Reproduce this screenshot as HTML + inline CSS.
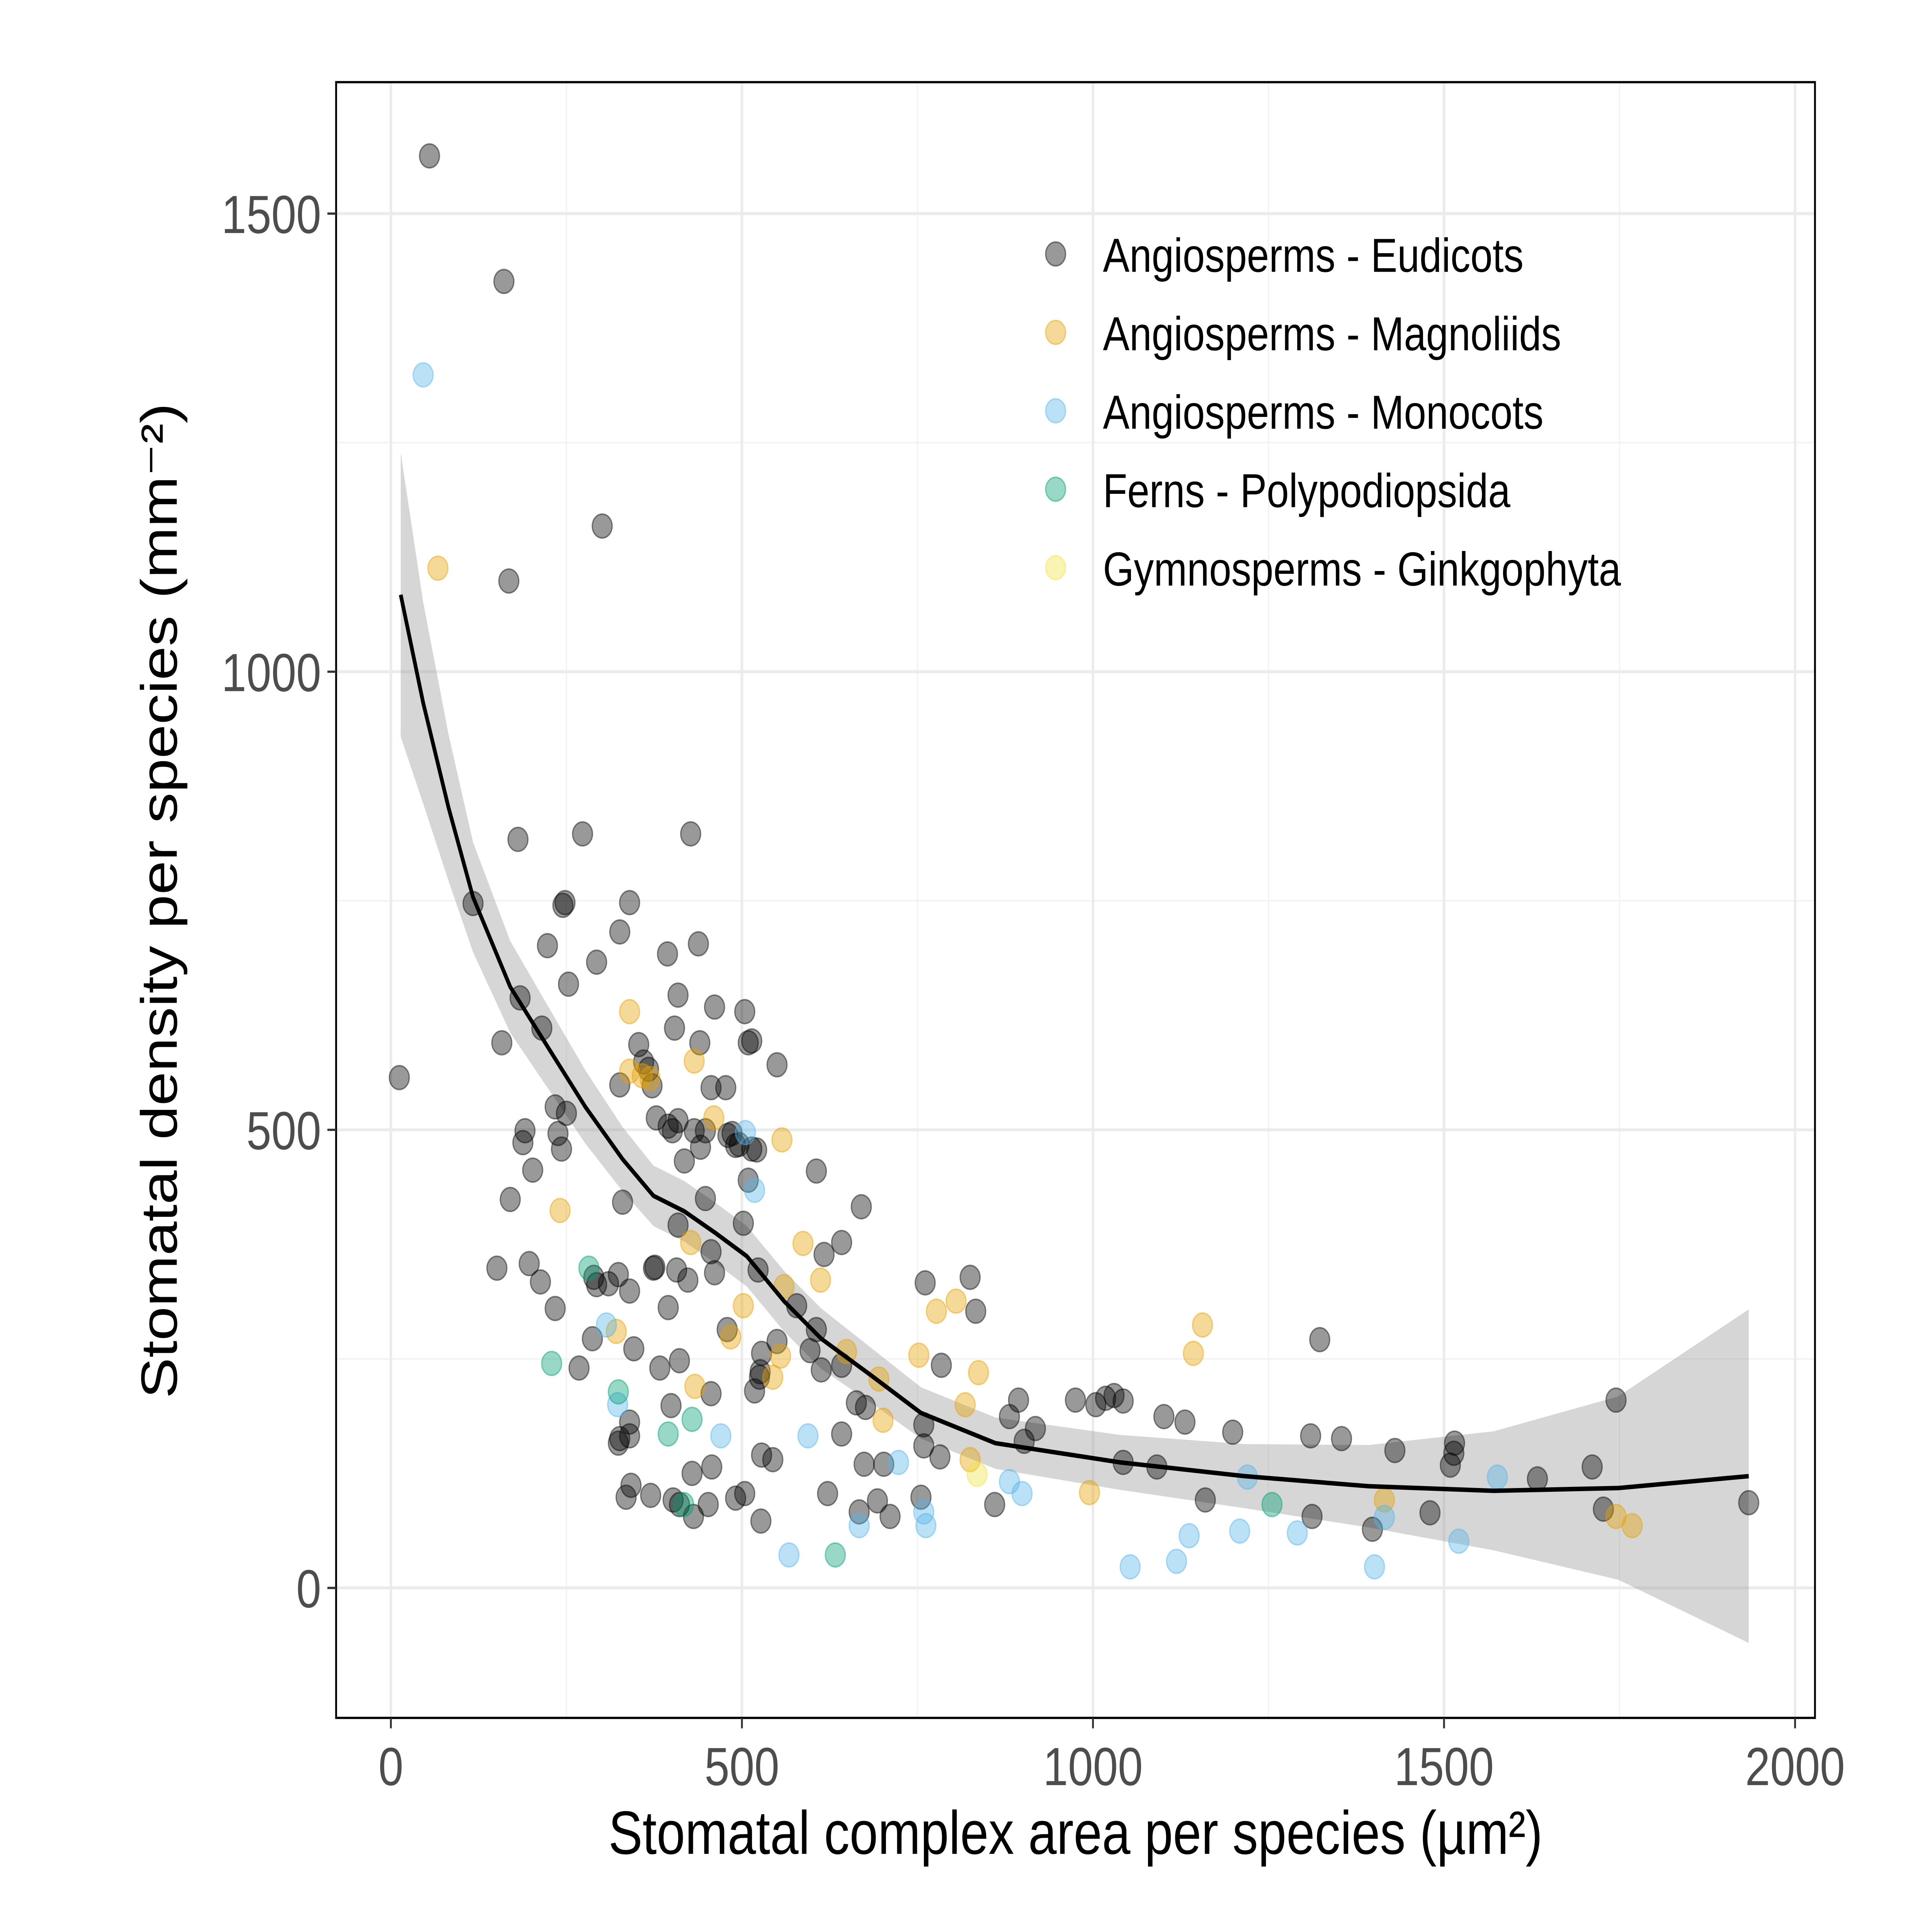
<!DOCTYPE html>
<html><head><meta charset="utf-8"><style>
html,body{margin:0;padding:0;background:#fff;width:100%;height:100%;overflow:hidden}
svg{display:block;width:100vw;height:100vh}
text{font-family:"Liberation Sans",Arial,sans-serif}
</style></head><body>
<svg id="chart" viewBox="0 0 1552 1293.33" preserveAspectRatio="none" xmlns="http://www.w3.org/2000/svg">
<rect x="0" y="0" width="1552" height="1294" fill="#fff"/>
<g id="grid"></g>
<g id="band"></g>
<g id="pts"></g>
<g id="line"></g>
<rect x="270" y="55" width="1188" height="1095" fill="none" stroke="#000" stroke-width="1.5"/>
<g id="axes"></g>
<text x="864" y="1241" font-size="41" text-anchor="middle" fill="#000">Stomatal complex area per species (µm²)</text>
<text transform="translate(142,603) rotate(-90)" font-size="41" text-anchor="middle" fill="#000">Stomatal density per species (mm⁻²)</text>
<g id="legend"></g>
</svg>
<script>
const xTicks=[0,500,1000,1500,2000];
const yTicks=[0,500,1000,1500];
const xMinor=[250,750,1250,1750];
const yMinor=[250,750,1250];
const groups=["Angiosperms - Eudicots","Angiosperms - Magnoliids","Angiosperms - Monocots","Ferns - Polypodiopsida","Gymnosperms - Ginkgophyta"];
const colors=["#000000","#E69F00","#56B4E9","#009E73","#F0E442"];
const eudX=[55,161,301,168,12,117,181,273,427,245,248,340,326,223,438,394,293,184,253,409,461,504,215,158,404,440,509,514,550,353,360,367,326,372,456,477,234,250,378,395,188,238,191,202,243,401,409,432,448,441,418,496,514,509,491,480,486,521,170,330,448,606,670,502,409,642,617,456,461,523,151,197,213,234,324,310,289,293,340,376,374,407,423,395,578,761,825,833,479,287,346,383,411,528,550,606,597,613,642,526,518,525,784,268,663,676,456,399,894,881,902,918,975,1004,1018,1030,1043,1101,1131,1199,1323,1310,1354,1430,1515,1514,1509,1745,1711,1633,1727,1934,1480,1398,1312,1160,1091,1043,860,759,759,782,755,711,702,693,674,667,642,622,527,504,491,544,528,457,429,452,411,431,370,335,324,340,340,326,342,402];
const eudY=[1563,1426,1159,1099,557,747,817,823,823,745,748,748,716,701,703,692,683,644,659,647,634,629,611,595,611,595,595,597,571,593,574,566,549,548,546,546,525,518,513,504,486,496,499,456,479,499,510,499,499,481,466,484,479,445,483,494,496,478,424,421,425,455,416,398,396,377,364,367,344,347,349,354,334,305,342,332,339,331,324,350,349,347,336,306,308,333,339,302,282,272,261,240,248,256,269,282,259,238,243,236,215,230,243,240,202,197,212,199,205,187,160,174,205,200,207,210,204,187,181,170,271,166,163,150,158,147,134,205,132,119,86,93,82,64,78,96,132,137,91,178,155,143,99,78,135,95,135,83,168,103,73,103,98,140,145,132,125,91,91,78,101,99,158,166,181,163,112,96];
const magX=[67,340,432,460,557,340,358,369,241,427,587,612,560,502,777,805,1156,1143,752,837,695,701,649,555,544,484,321,433,818,825,995,1415,1745,1768];
const magY=[1113,629,575,513,489,564,559,556,412,377,376,336,329,308,302,313,287,256,254,235,228,183,258,253,230,274,280,220,200,140,104,96,78,68];
const monX=[46,505,518,307,323,594,470,567,667,759,762,723,881,899,1053,1119,1137,1209,1220,1291,1401,1415,1521,1576];
const monY=[1324,497,434,287,200,166,166,36,68,83,68,137,116,103,23,29,57,62,121,60,23,77,51,121];
const fernX=[282,229,324,395,429,417,633,1255];
const fernY=[349,245,214,168,184,91,36,91];
const gymX=[835];
const gymY=[124];
const fitX=[14,46,82,117,170,223,277,330,374,418,463,507,560,613,684,755,861,1039,1216,1393,1571,1748,1934];
const fitY=[1084,966,852,754,656,591,525,468,428,411,387,362,313,272,232,191,158,137,122,111,106,109,122];
const fitSE=[155,110,80,60,50,45,40,35,33,33,33,33,33,33,30,28,28,30,35,45,65,100,182];

const X=v=>314+v*(1442-314)/2000;
const Y=v=>1063-v*(1063-143)/1500;
const NS="http://www.w3.org/2000/svg";
function mk(tag,parent,attrs){const e=document.createElementNS(NS,tag);for(const k in attrs)e.setAttribute(k,attrs[k]);parent.appendChild(e);return e;}
const grid=document.getElementById('grid'),axes=document.getElementById('axes');
xMinor.forEach(v=>{const l=mk('line',grid,{x1:X(v),x2:X(v),y1:55,y2:1150,stroke:'#F2F2F2','stroke-width':1});

});
yMinor.forEach(v=>{const l=mk('line',grid,{x1:270,x2:1458,y1:Y(v),y2:Y(v),stroke:'#F2F2F2','stroke-width':1});

});
xTicks.forEach(v=>{const l=mk('line',grid,{x1:X(v),x2:X(v),y1:55,y2:1150,stroke:'#EBEBEB','stroke-width':2});


const t=mk('line',axes,{x1:X(v),x2:X(v),y1:1150,y2:1157,stroke:'#333','stroke-width':1.5});


const tx=mk('text',axes,{x:X(v),y:1195,'font-size':36,'text-anchor':'middle',fill:'#4D4D4D'});tx.textContent=v;

});
yTicks.forEach(v=>{const l=mk('line',grid,{x1:270,x2:1458,y1:Y(v),y2:Y(v),stroke:'#EBEBEB','stroke-width':2});


const t=mk('line',axes,{x1:263,x2:270,y1:Y(v),y2:Y(v),stroke:'#333','stroke-width':1.5});


const tx=mk('text',axes,{x:258,y:Y(v)+13,'font-size':36,'text-anchor':'end',fill:'#4D4D4D'});tx.textContent=v;

});
let up=fitX.map((x,i)=>X(x)+','+Y(fitY[i]+fitSE[i])),lo=fitX.map((x,i)=>X(x)+','+Y(fitY[i]-fitSE[i])).reverse();
const band=mk('polygon',document.getElementById('band'),{points:up.concat(lo).join(' '),fill:'#999','fill-opacity':0.4});


const sets=[[eudX,eudY],[magX,magY],[monX,monY],[fernX,fernY],[gymX,gymY]];
const pg=document.getElementById('pts');
sets.forEach((s,g)=>{s[0].forEach((x,i)=>{const c=mk('circle',pg,{cx:X(x),cy:Y(s[1][i]),r:8,fill:colors[g],'fill-opacity':0.4,stroke:colors[g],'stroke-opacity':0.45,'stroke-width':1});

});});
const ln=mk('polyline',document.getElementById('line'),{points:fitX.map((x,i)=>X(x)+','+Y(fitY[i])).join(' '),fill:'none',stroke:'#000','stroke-width':3,'stroke-linejoin':'round'});


const lg=document.getElementById('legend');
groups.forEach((n,i)=>{const y=170+i*52.5;
const c=mk('circle',lg,{cx:848,cy:y,r:8,fill:colors[i],'fill-opacity':0.4,stroke:colors[i],'stroke-opacity':0.45,'stroke-width':1});


const t=mk('text',lg,{x:886,y:y+12,'font-size':32,fill:'#000'});t.textContent=n;

});
</script>
</body></html>
